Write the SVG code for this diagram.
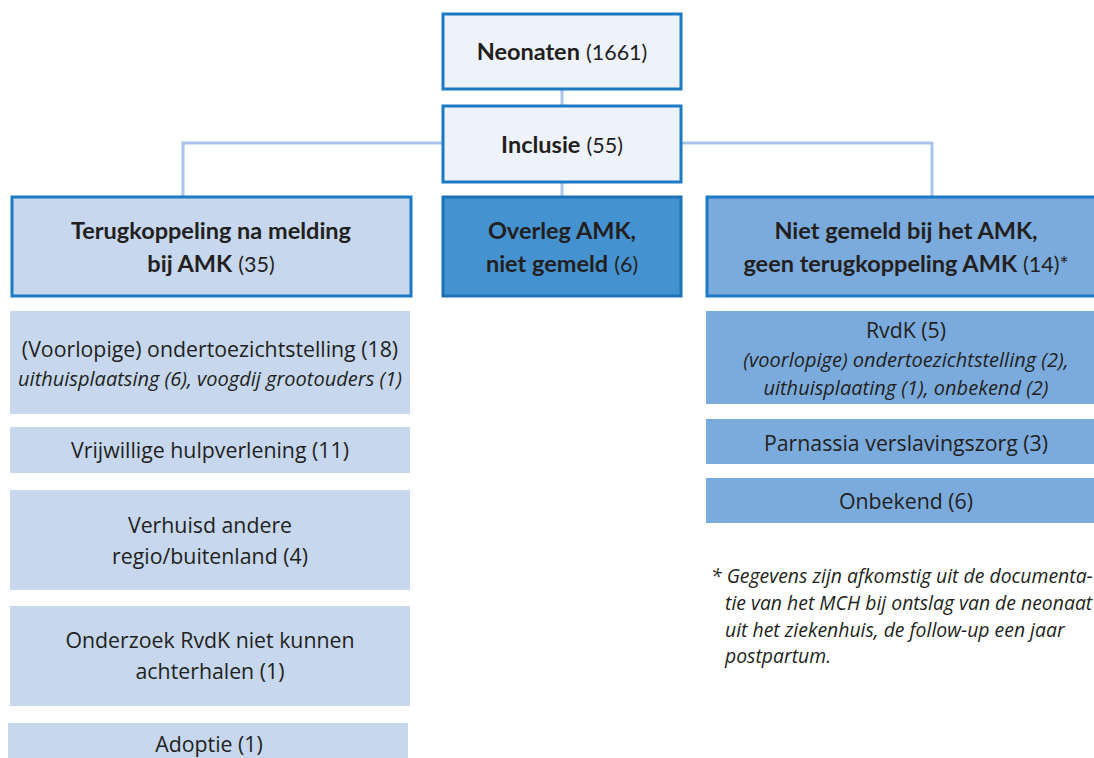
<svg xmlns="http://www.w3.org/2000/svg" width="1094" height="758" viewBox="0 0 1094 758">
<style>
.top{fill:#eef2fa;stroke:#1b7ac3;stroke-width:3}
.lft{fill:#c6d7ee}
.lftb{fill:#c6d7ee;stroke:#1b7ac3;stroke-width:3}
.mid{fill:#4592d0;stroke:#1b72b8;stroke-width:3}
.rgt{fill:#7babdc}
.rgtb{fill:#7babdc;stroke:#1b7ac3;stroke-width:3}
.conn{fill:none;stroke:#a9c4ea;stroke-width:3}
text{font-family:"Open Sans","Noto Sans",sans-serif;fill:#231f20;text-anchor:middle}
.h{font-family:Lato,"Liberation Sans",sans-serif;font-size:23.5px}
.h .b{font-weight:bold}
.h .r{font-size:21.5px}
.t{font-size:21.3px}
.i{font-size:20px;font-style:italic}
.fn{font-size:19.4px;font-style:italic;text-anchor:start}
</style>
<rect width="1094" height="758" fill="#ffffff"/>
<g id="connectors">
<line class="conn" x1="562" y1="89" x2="562" y2="106"/>
<line class="conn" x1="562" y1="182" x2="562" y2="196"/>
<polyline class="conn" points="183,196 183,143 442,143"/>
<polyline class="conn" points="681,143 932,143 932,196"/>
</g>
<g id="neonaten">
<rect class="top" x="443" y="14" width="238" height="75"/>
<text class="h" x="562" y="60"><tspan class="b">Neonaten</tspan> <tspan class="r">(1661)</tspan></text>
</g>
<g id="inclusie">
<rect class="top" x="443" y="106" width="238" height="76"/>
<text class="h" x="562" y="153"><tspan class="b">Inclusie</tspan> <tspan class="r">(55)</tspan></text>
</g>
<g id="terugkoppeling">
<rect class="lftb" x="12" y="197" width="399" height="99"/>
<text class="h" x="211" y="239"><tspan class="b">Terugkoppeling na melding</tspan></text>
<text class="h" x="211" y="272"><tspan class="b">bij AMK</tspan> <tspan class="r">(35)</tspan></text>
</g>
<g id="overleg">
<rect class="mid" x="443" y="197" width="238" height="99"/>
<text class="h" x="562" y="239"><tspan class="b">Overleg AMK,</tspan></text>
<text class="h" x="562" y="272"><tspan class="b">niet gemeld</tspan> <tspan class="r">(6)</tspan></text>
</g>
<g id="nietgemeld">
<rect class="rgtb" x="707" y="197" width="400" height="99"/>
<text class="h" x="906" y="239"><tspan class="b">Niet gemeld bij het AMK,</tspan></text>
<text class="h" x="906" y="272"><tspan class="b">geen terugkoppeling AMK</tspan> <tspan class="r">(14)*</tspan></text>
</g>
<g id="ots">
<rect class="lft" x="10" y="311" width="400" height="103"/>
<text class="t" x="210" y="357">(Voorlopige) ondertoezichtstelling (18)</text>
<text class="i" x="210" y="386">uithuisplaatsing (6), voogdij grootouders (1)</text>
</g>
<g id="vrijwillig">
<rect class="lft" x="10" y="427" width="400" height="46"/>
<text class="t" x="210" y="458">Vrijwillige hulpverlening (11)</text>
</g>
<g id="verhuisd">
<rect class="lft" x="10" y="490" width="400" height="100"/>
<text class="t" x="210" y="533">Verhuisd andere</text>
<text class="t" x="210" y="564">regio/buitenland (4)</text>
</g>
<g id="onderzoek">
<rect class="lft" x="10" y="606" width="400" height="100"/>
<text class="t" x="210" y="648">Onderzoek RvdK niet kunnen</text>
<text class="t" x="210" y="679">achterhalen (1)</text>
</g>
<g id="adoptie">
<rect class="lft" x="8" y="723" width="400" height="40"/>
<text class="t" x="209" y="752">Adoptie (1)</text>
</g>
<g id="rvdk">
<rect class="rgt" x="706" y="311" width="400" height="93"/>
<text class="t" x="906" y="338">RvdK (5)</text>
<text class="i" x="906" y="367">(voorlopige) ondertoezichtstelling (2),</text>
<text class="i" x="906" y="395">uithuisplaating (1), onbekend (2)</text>
</g>
<g id="parnassia">
<rect class="rgt" x="706" y="419" width="400" height="45"/>
<text class="t" x="906" y="451">Parnassia verslavingszorg (3)</text>
</g>
<g id="onbekend">
<rect class="rgt" x="706" y="478" width="400" height="45"/>
<text class="t" x="906" y="509">Onbekend (6)</text>
</g>
<g id="footnote">
<text class="fn" x="711" y="583">* Gegevens zijn afkomstig uit de documenta-</text>
<text class="fn" x="725" y="610">tie van het MCH bij ontslag van de neonaat</text>
<text class="fn" x="725" y="637">uit het ziekenhuis, de follow-up een jaar</text>
<text class="fn" x="725" y="663">postpartum.</text>
</g>
</svg>
